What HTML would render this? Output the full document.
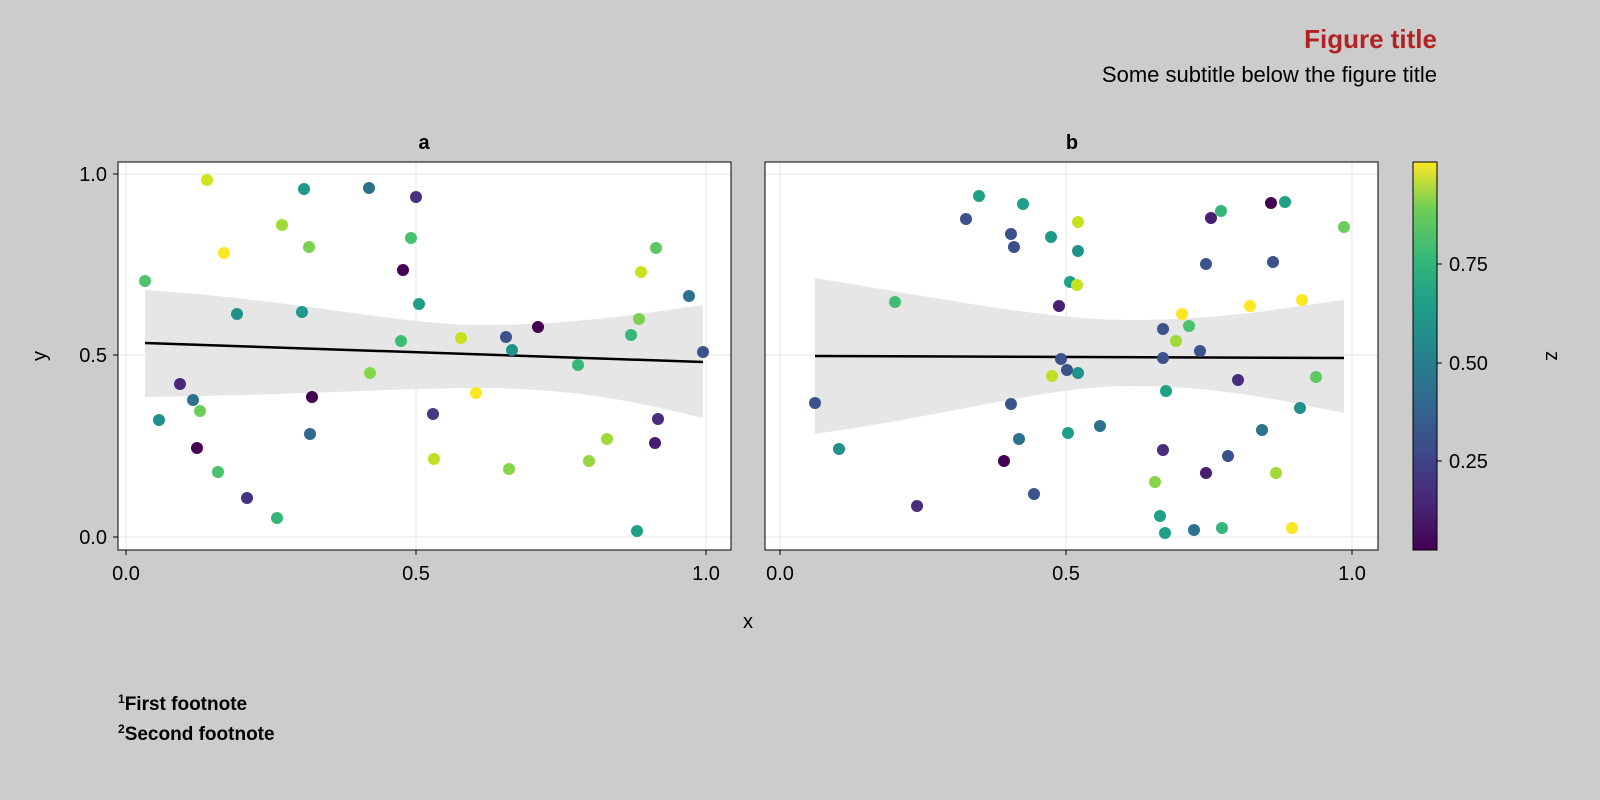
<!DOCTYPE html>
<html><head><meta charset="utf-8"><style>
body{margin:0;background:#cccccc;}
svg{display:block;font-family:"Liberation Sans",sans-serif;}
</style></head><body>
<svg width="1600" height="800" viewBox="0 0 1600 800">
<defs>
<linearGradient id="vir" x1="0" y1="1" x2="0" y2="0">
<stop offset="0" stop-color="#440154"/><stop offset="0.13" stop-color="#482878"/><stop offset="0.25" stop-color="#3e4989"/><stop offset="0.38" stop-color="#31688e"/><stop offset="0.5" stop-color="#26828e"/><stop offset="0.63" stop-color="#1f9e89"/><stop offset="0.75" stop-color="#35b779"/><stop offset="0.88" stop-color="#6ece58"/><stop offset="1" stop-color="#fde725"/>
</linearGradient>
</defs>
<rect width="1600" height="800" fill="#cccccc"/>
<text x="1437" y="48" text-anchor="end" font-size="26" font-weight="bold" fill="#b22222">Figure title</text>
<text x="1437" y="82" text-anchor="end" font-size="22" fill="#000">Some subtitle below the figure title</text>

<!-- Panel a -->
<rect x="118" y="162" width="613" height="388" fill="#fff" stroke="#000" stroke-width="1"/>
<g stroke="#e6e6e6" stroke-width="1">
<line x1="126" y1="162" x2="126" y2="550"/><line x1="416" y1="162" x2="416" y2="550"/><line x1="706" y1="162" x2="706" y2="550"/>
<line x1="118" y1="174" x2="731" y2="174"/><line x1="118" y1="355" x2="731" y2="355"/><line x1="118" y1="537" x2="731" y2="537"/>
</g>
<path d="M145,290 C300,300 400,325 480,325 C580,325 650,312 703,305 L703,418 C650,405 580,388 480,388 C400,388 300,395 145,397 Z" fill="#e6e6e6"/>
<line x1="145" y1="343" x2="703" y2="362" stroke="#000" stroke-width="2.5"/>
<g stroke="none">
<circle cx="145" cy="281" r="6" fill="#4ec36b"/><circle cx="207" cy="180" r="6" fill="#d2e21b"/><circle cx="159" cy="420" r="6" fill="#21918c"/><circle cx="180" cy="384" r="6" fill="#482878"/><circle cx="193" cy="400" r="6" fill="#2c728e"/><circle cx="200" cy="411" r="6" fill="#6ccd5a"/><circle cx="197" cy="448" r="6" fill="#440154"/><circle cx="218" cy="472" r="6" fill="#4ac16d"/><circle cx="224" cy="253" r="6" fill="#fde725"/><circle cx="237" cy="314" r="6" fill="#21918c"/><circle cx="247" cy="498" r="6" fill="#46327e"/><circle cx="277" cy="518" r="6" fill="#35b779"/><circle cx="282" cy="225" r="6" fill="#a0da39"/><circle cx="304" cy="189" r="6" fill="#1f998a"/><circle cx="302" cy="312" r="6" fill="#1f998a"/><circle cx="309" cy="247" r="6" fill="#7ad151"/><circle cx="310" cy="434" r="6" fill="#31688e"/><circle cx="312" cy="397" r="6" fill="#440154"/><circle cx="369" cy="188" r="6" fill="#2c728e"/><circle cx="416" cy="197" r="6" fill="#46327e"/><circle cx="411" cy="238" r="6" fill="#4ac16d"/><circle cx="403" cy="270" r="6" fill="#440154"/><circle cx="401" cy="341" r="6" fill="#3fbc73"/><circle cx="370" cy="373" r="6" fill="#86d549"/><circle cx="419" cy="304" r="6" fill="#1f9e89"/><circle cx="433" cy="414" r="6" fill="#443983"/><circle cx="434" cy="459" r="6" fill="#c2df23"/><circle cx="461" cy="338" r="6" fill="#c8e020"/><circle cx="476" cy="393" r="6" fill="#fde725"/><circle cx="506" cy="337" r="6" fill="#3b528b"/><circle cx="512" cy="350" r="6" fill="#21918c"/><circle cx="509" cy="469" r="6" fill="#86d549"/><circle cx="538" cy="327" r="6" fill="#440154"/><circle cx="578" cy="365" r="6" fill="#35b779"/><circle cx="607" cy="439" r="6" fill="#a0da39"/><circle cx="589" cy="461" r="6" fill="#95d840"/><circle cx="631" cy="335" r="6" fill="#35b779"/><circle cx="639" cy="319" r="6" fill="#7ad151"/><circle cx="641" cy="272" r="6" fill="#c8e020"/><circle cx="656" cy="248" r="6" fill="#5ec962"/><circle cx="658" cy="419" r="6" fill="#472d7b"/><circle cx="655" cy="443" r="6" fill="#481f70"/><circle cx="637" cy="531" r="6" fill="#1fa187"/><circle cx="689" cy="296" r="6" fill="#2c728e"/><circle cx="703" cy="352" r="6" fill="#3b528b"/>
</g>
<rect x="118" y="162" width="613" height="388" fill="none" stroke="#000" stroke-width="1"/>
<text x="424" y="149" text-anchor="middle" font-size="20" font-weight="bold">a</text>
<g stroke="#000"><line x1="113" y1="174" x2="118" y2="174"/><line x1="113" y1="355" x2="118" y2="355"/><line x1="113" y1="537" x2="118" y2="537"/>
<line x1="126" y1="550" x2="126" y2="555"/><line x1="416" y1="550" x2="416" y2="555"/><line x1="706" y1="550" x2="706" y2="555"/></g>
<g font-size="20" text-anchor="end"><text x="107" y="181">1.0</text><text x="107" y="362">0.5</text><text x="107" y="544">0.0</text></g>
<g font-size="20" text-anchor="middle"><text x="126" y="580">0.0</text><text x="416" y="580">0.5</text><text x="706" y="580">1.0</text></g>
<text x="46" y="356" font-size="20" text-anchor="middle" transform="rotate(-90 46 356)">y</text>

<!-- Panel b -->
<rect x="765" y="162" width="613" height="388" fill="#fff"/>
<g stroke="#e6e6e6" stroke-width="1">
<line x1="780" y1="162" x2="780" y2="550"/><line x1="1066" y1="162" x2="1066" y2="550"/><line x1="1352" y1="162" x2="1352" y2="550"/>
<line x1="765" y1="174" x2="1378" y2="174"/><line x1="765" y1="355" x2="1378" y2="355"/><line x1="765" y1="537" x2="1378" y2="537"/>
</g>
<path d="M815,278 C950,300 1050,320 1130,320 C1230,320 1300,305 1344,300 L1344,413 C1300,405 1230,386 1130,386 C1050,386 950,415 815,434 Z" fill="#e6e6e6"/>
<line x1="815" y1="356" x2="1344" y2="358" stroke="#000" stroke-width="2.5"/>
<g>
<circle cx="815" cy="403" r="6" fill="#3b528b"/><circle cx="839" cy="449" r="6" fill="#21918c"/><circle cx="895" cy="302" r="6" fill="#3fbc73"/><circle cx="917" cy="506" r="6" fill="#472d7b"/><circle cx="966" cy="219" r="6" fill="#3b528b"/><circle cx="979" cy="196" r="6" fill="#1fa187"/><circle cx="1011" cy="234" r="6" fill="#3b528b"/><circle cx="1014" cy="247" r="6" fill="#3b528b"/><circle cx="1011" cy="404" r="6" fill="#3b528b"/><circle cx="1019" cy="439" r="6" fill="#2c728e"/><circle cx="1004" cy="461" r="6" fill="#440154"/><circle cx="1023" cy="204" r="6" fill="#1f9e89"/><circle cx="1034" cy="494" r="6" fill="#3b528b"/><circle cx="1051" cy="237" r="6" fill="#1f998a"/><circle cx="1059" cy="306" r="6" fill="#481f70"/><circle cx="1061" cy="359" r="6" fill="#3b528b"/><circle cx="1067" cy="370" r="6" fill="#3b528b"/><circle cx="1070" cy="282" r="6" fill="#1fa187"/><circle cx="1078" cy="251" r="6" fill="#21918c"/><circle cx="1077" cy="285" r="6" fill="#c8e020"/><circle cx="1078" cy="222" r="6" fill="#c8e020"/><circle cx="1078" cy="373" r="6" fill="#21918c"/><circle cx="1052" cy="376" r="6" fill="#c2df23"/><circle cx="1068" cy="433" r="6" fill="#1f9e89"/><circle cx="1100" cy="426" r="6" fill="#2c728e"/><circle cx="1155" cy="482" r="6" fill="#86d549"/><circle cx="1160" cy="516" r="6" fill="#1fa187"/><circle cx="1163" cy="329" r="6" fill="#3b528b"/><circle cx="1163" cy="358" r="6" fill="#3b528b"/><circle cx="1166" cy="391" r="6" fill="#1fa187"/><circle cx="1165" cy="533" r="6" fill="#1fa187"/><circle cx="1163" cy="450" r="6" fill="#472d7b"/><circle cx="1176" cy="341" r="6" fill="#a0da39"/><circle cx="1182" cy="314" r="6" fill="#fde725"/><circle cx="1189" cy="326" r="6" fill="#4ac16d"/><circle cx="1194" cy="530" r="6" fill="#2c728e"/><circle cx="1200" cy="351" r="6" fill="#3b528b"/><circle cx="1206" cy="264" r="6" fill="#3b528b"/><circle cx="1206" cy="473" r="6" fill="#481f70"/><circle cx="1211" cy="218" r="6" fill="#481f70"/><circle cx="1221" cy="211" r="6" fill="#35b779"/><circle cx="1228" cy="456" r="6" fill="#3b528b"/><circle cx="1222" cy="528" r="6" fill="#35b779"/><circle cx="1238" cy="380" r="6" fill="#472d7b"/><circle cx="1250" cy="306" r="6" fill="#fde725"/><circle cx="1262" cy="430" r="6" fill="#2c728e"/><circle cx="1271" cy="203" r="6" fill="#440154"/><circle cx="1273" cy="262" r="6" fill="#3b528b"/><circle cx="1276" cy="473" r="6" fill="#a0da39"/><circle cx="1285" cy="202" r="6" fill="#1fa187"/><circle cx="1292" cy="528" r="6" fill="#fde725"/><circle cx="1300" cy="408" r="6" fill="#21918c"/><circle cx="1302" cy="300" r="6" fill="#fde725"/><circle cx="1316" cy="377" r="6" fill="#5ec962"/><circle cx="1344" cy="227" r="6" fill="#6ccd5a"/>
</g>
<rect x="765" y="162" width="613" height="388" fill="none" stroke="#000" stroke-width="1"/>
<text x="1072" y="149" text-anchor="middle" font-size="20" font-weight="bold">b</text>
<g stroke="#000"><line x1="780" y1="550" x2="780" y2="555"/><line x1="1066" y1="550" x2="1066" y2="555"/><line x1="1352" y1="550" x2="1352" y2="555"/></g>
<g font-size="20" text-anchor="middle"><text x="780" y="580">0.0</text><text x="1066" y="580">0.5</text><text x="1352" y="580">1.0</text></g>
<text x="748" y="628" font-size="20" text-anchor="middle">x</text>

<!-- Colorbar -->
<rect x="1413" y="162" width="24" height="388" fill="url(#vir)" stroke="#000" stroke-width="1"/>
<g stroke="#000"><line x1="1437" y1="264" x2="1442" y2="264"/><line x1="1437" y1="363" x2="1442" y2="363"/><line x1="1437" y1="461" x2="1442" y2="461"/></g>
<g font-size="20"><text x="1449" y="271">0.75</text><text x="1449" y="370">0.50</text><text x="1449" y="468">0.25</text></g>
<text x="1546" y="356" font-size="20" text-anchor="middle" transform="rotate(90 1546 356)">z</text>

<!-- Footnotes -->
<g font-size="19" font-weight="bold">
<text x="118" y="710"><tspan font-size="12" dy="-7">1</tspan><tspan dy="7">First footnote</tspan></text>
<text x="118" y="740"><tspan font-size="12" dy="-7">2</tspan><tspan dy="7">Second footnote</tspan></text>
</g>
</svg>
</body></html>
